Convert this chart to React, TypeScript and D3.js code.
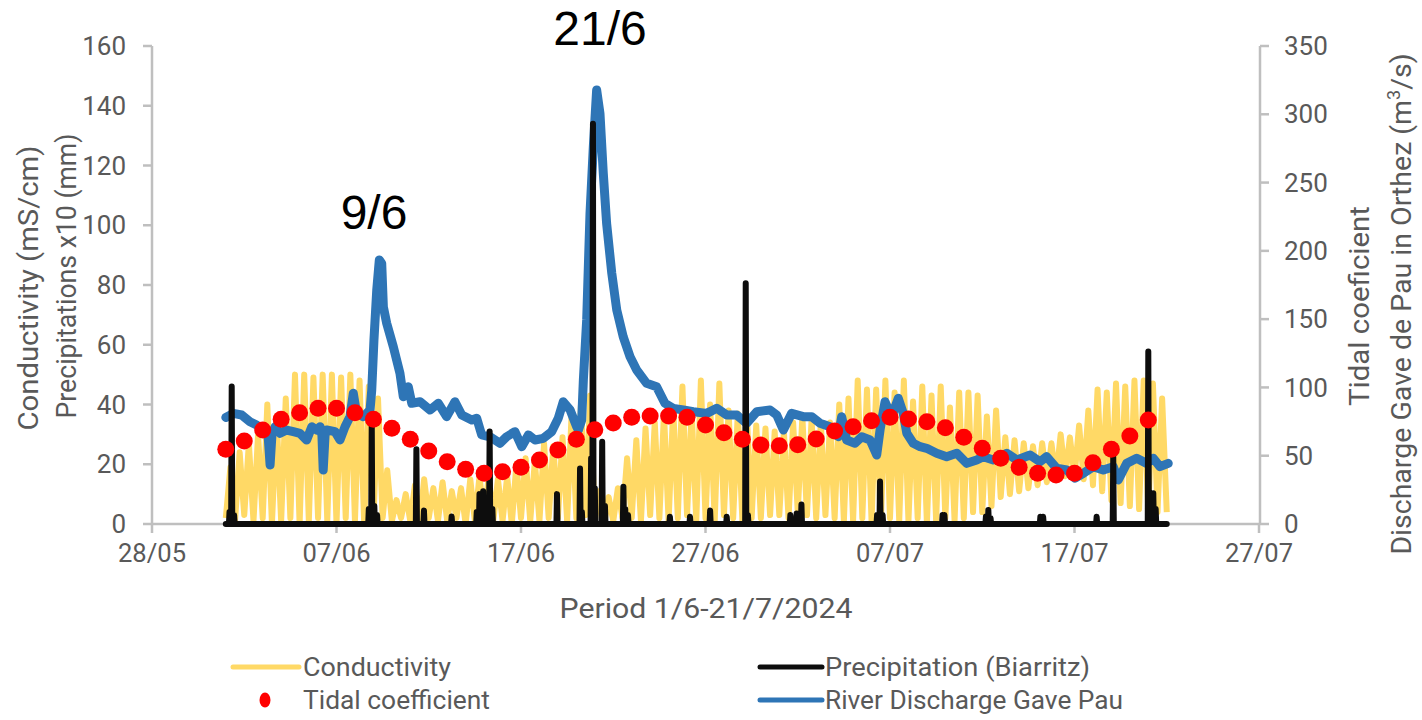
import React from "react";
import * as d3 from "d3";

// ---------- DATA ----------
const xTickDates = ["2024-05-28", "2024-06-07", "2024-06-17", "2024-06-27", "2024-07-07", "2024-07-17", "2024-07-27"];
const leftTicks = [0, 20, 40, 60, 80, 100, 120, 140, 160];
const rightTicks = [0, 50, 100, 150, 200, 250, 300, 350];

// Tidal coefficient, one value per day from 1/6 to 21/7
const tidal = [
  54.7, 60.8, 68.8, 76.7, 81.5, 84.7, 84.7, 81.5, 76.7, 70.1,
  62.0, 53.5, 45.6, 40.0, 37.1, 38.3, 41.5, 46.9, 54.2, 62.0,
  69.0, 74.0, 78.1, 79.1, 79.1, 78.1, 72.5, 66.8, 62.0, 57.8,
  57.3, 58.0, 62.2, 68.1, 71.2, 75.6, 78.1, 76.9, 74.9, 70.5,
  63.5, 55.4, 48.1, 41.5, 37.1, 35.9, 37.1, 44.9, 54.7, 64.4, 76.1,
];

// Conductivity: high-tide peaks (two per day) and low-tide troughs
const condHigh = [
  19, 24, 27, 30, 40, 36, 42, 50, 50, 49, 50, 50, 49, 50, 48, 46, 42, 18,
  8, 10, 13, 15, 12, 14, 11, 12, 15, 16, 16, 15, 16, 20, 22, 21, 27, 26, 29, 38, 40, 43,
  11, 9, 12, 22,
  28, 32, 34, 37, 39, 46, 38, 48, 40, 47, 38, 37, 35, 33, 32, 31,
  31, 34, 36, 35, 34, 34, 40, 42,
  48, 45, 45, 48, 44, 48, 41, 46, 43, 46, 39, 44, 44, 43,
  36, 38, 29, 28, 27, 26, 27, 27, 30, 29, 33, 38, 45, 44,
  47, 46, 48, 48, 47, 42,
];
const condLow = [
  2, 1, 3, 1, 2, 0, 1, 2, 0, 1, 2, 1, 0, 2, 1, 0, 1, 2,
  1, 2, 1, 0, 2, 1, 1, 2, 0, 1, 2, 1, 1, 0, 2, 1, 1, 2, 2, 1, 2, 3,
  1, 0, 1, 2,
  2, 1, 3, 2, 1, 2, 3, 1, 2, 1, 3, 2, 1, 2, 2, 3,
  3, 2, 4, 3, 2, 3, 2, 1,
  1, 2, 1, 0, 2, 1, 1, 2, 0, 1, 2, 1, 2, 4,
  4, 6, 9, 10, 11, 12, 13, 14, 15, 16, 16, 15, 13, 11,
  8, 7, 6, 5, 4, 4,
  4,
];

// Precipitation events (day after 1/6, value x10 mm)
const precipitation: [number, number][] = [
  [0.2, 4], [0.32, 46], [0.45, 3],
  [7.75, 5], [7.91, 35], [8.05, 6], [8.2, 3],
  [10.33, 25], [10.74, 4.5], [12.24, 2.5],
  [13.6, 4], [13.75, 10], [13.95, 11], [14.15, 8], [14.3, 31], [14.45, 5],
  [17.95, 10], [19.2, 18.6], [19.3, 4], [19.8, 22], [19.9, 134], [20.0, 12],
  [20.4, 27.5], [20.55, 6], [21.55, 12.5], [21.65, 5], [21.8, 3],
  [24.07, 2.4], [25.16, 2.4], [26.25, 4.5], [27.15, 2.4], [28.18, 80.6], [28.3, 3],
  [30.6, 3], [30.94, 3.5], [31.2, 6.5], [35.3, 3], [35.46, 14.2], [35.6, 3],
  [38.85, 3], [38.95, 3], [41.2, 2.5], [41.33, 4.7], [41.45, 2],
  [44.15, 2.4], [44.3, 2.4], [47.2, 2.4], [48.1, 22.5],
  [50.0, 57.7], [50.15, 8], [50.27, 10.3], [50.4, 5],
];

// River discharge Gave de Pau (day after 1/6, m3/s)
const discharge: [number, number][] = [
  [0, 78], [0.41, 81], [0.86, 79.8], [1.31, 74.9], [1.67, 72.5], [2.03, 68.8], [2.29, 65.2],
  [2.4, 43.2], [2.5, 65], [2.67, 71.2], [2.94, 66.4], [3.3, 68.8], [3.66, 67.6], [4.02, 66.4],
  [4.38, 61.5], [4.66, 71.2], [4.93, 68.8], [5.11, 71.2], [5.21, 65], [5.28, 39.5], [5.38, 65],
  [5.47, 68.8], [5.92, 67.6], [6.19, 61.5], [6.46, 71.2], [6.73, 78.6], [6.91, 95.7], [7.09, 81],
  [7.45, 78.6], [7.82, 83.5], [7.91, 98], [8.03, 134.7], [8.18, 171], [8.32, 193.3], [8.45, 190.9],
  [8.54, 159], [8.72, 147], [9.08, 129.8], [9.44, 110.3], [9.62, 93.2], [9.89, 100.5], [10.08, 88.4],
  [10.53, 89.5], [11.07, 83.5], [11.52, 88.4], [11.97, 78.6], [12.42, 89.5], [12.79, 79.8],
  [13.33, 76.1], [13.6, 77.4], [13.87, 65.2], [14.32, 63.9], [14.86, 59.1], [15.22, 63.9],
  [15.67, 67.6], [16.04, 56.6], [16.4, 65.2], [16.76, 61.5], [17.21, 62.7], [17.66, 67.6],
  [18.02, 77.4], [18.29, 89.5], [18.66, 83.5], [19.02, 71.2], [19.11, 68.8], [19.29, 76.1],
  [19.38, 105.4], [19.56, 149.4], [19.74, 227.5], [19.92, 276.3], [20.1, 317.8], [20.28, 300.7],
  [20.46, 256.8], [20.64, 220.2], [20.92, 183.6], [21.19, 156.7], [21.54, 137.1], [21.91, 122.5],
  [22.27, 112.8], [22.81, 103], [23.35, 100.5], [23.8, 88.4], [24.25, 84.7], [24.8, 83.5],
  [25.34, 82.2], [26.07, 81], [26.61, 84.7], [27.15, 79.8], [27.69, 79.8], [28.23, 73.7],
  [28.78, 82.2], [29.5, 83.5], [29.86, 79.8], [30.22, 68.8], [30.67, 81], [31.3, 78.6],
  [31.76, 78.6], [32.21, 73.7], [32.75, 71.2], [33.2, 63.9], [33.38, 78.6], [33.65, 61.5],
  [34.1, 59.1], [34.47, 63.9], [34.92, 61.5], [35.28, 50.5], [35.46, 68.8], [35.73, 89.5],
  [36.09, 78.6], [36.45, 92], [36.72, 81], [36.91, 66.4], [37.26, 59.1], [37.63, 56.6],
  [37.99, 55.4], [38.53, 51.8], [39.07, 49.3], [39.62, 51.8], [40.16, 44.4], [40.7, 46.9],
  [41.06, 49.3], [41.6, 46.9], [42.33, 51.8], [42.87, 46.9], [43.59, 50.5], [44.13, 45.6],
  [44.49, 49.3], [45.03, 40.8], [45.58, 39.5], [46.03, 33.5], [46.48, 37.1], [47.02, 42],
  [47.56, 39.5], [48.1, 42], [48.37, 32.2], [48.83, 44.4], [49.37, 48.1], [49.91, 44.4],
  [50.27, 48.1], [50.63, 42], [51.08, 44.4],
];

// ---------- CHART ----------
const START = Date.UTC(2024, 5, 1);
const dayDate = (d: number) => new Date(START + d * 864e5);

const FONT = "Roboto, 'Noto Sans', sans-serif";
const TXT = "#595959";
const AXIS = "#BFBFBF";

export default function App() {
  const x = d3
    .scaleUtc()
    .domain([new Date(Date.UTC(2024, 4, 28)), new Date(Date.UTC(2024, 6, 27))])
    .range([152, 1259]);
  const yL = d3.scaleLinear().domain([0, 160]).range([524, 46]);
  const yR = d3.scaleLinear().domain([0, 350]).range([524, 46]);
  const fmt = d3.utcFormat("%d/%m");

  const condPts: [number, number][] = [];
  condHigh.forEach((h, i) => {
    condPts.push([i * 0.5, condLow[i]]);
    condPts.push([i * 0.5 + 0.25, h]);
  });
  condPts.push([51, condLow[condLow.length - 1]]);

  const precPts: [number, number][] = [[0, 0]];
  precipitation.forEach(([d, v]) => {
    precPts.push([d - 0.03, 0], [d, v], [d + 0.03, 0]);
  });
  precPts.push([51, 0]);

  const lineL = d3
    .line<[number, number]>()
    .x((p) => x(dayDate(p[0])))
    .y((p) => yL(p[1]));
  const lineR = d3
    .line<[number, number]>()
    .x((p) => x(dayDate(p[0])))
    .y((p) => yR(p[1]));

  return (
    <svg
      width={1422}
      height={720}
      style={{ position: "absolute", left: 0, top: 0, background: "#fff" }}
      fontFamily={FONT}
    >
      <rect x={0} y={0} width={1422} height={720} fill="#fff" />
      {/* axes */}
      <line x1={152} y1={46} x2={152} y2={524} stroke={AXIS} strokeWidth={2.5} />
      <line x1={1260} y1={46} x2={1260} y2={524} stroke={AXIS} strokeWidth={2.5} />
      <line x1={152} y1={524} x2={1260} y2={524} stroke={AXIS} strokeWidth={2.5} />
      {leftTicks.map((t) => (
        <g key={"l" + t}>
          <line x1={143} x2={152} y1={yL(t)} y2={yL(t)} stroke={AXIS} strokeWidth={2.5} />
          <text x={126} y={yL(t)} dy="0.35em" textAnchor="end" fontSize={26} fill={TXT}>
            {t}
          </text>
        </g>
      ))}
      {rightTicks.map((t) => (
        <g key={"r" + t}>
          <line x1={1260} x2={1269} y1={yR(t)} y2={yR(t)} stroke={AXIS} strokeWidth={2.5} />
          <text x={1284} y={yR(t)} dy="0.35em" textAnchor="start" fontSize={26} fill={TXT}>
            {t}
          </text>
        </g>
      ))}
      {xTickDates.map((s) => {
        const dt = new Date(s + "T00:00:00Z");
        return (
          <g key={s}>
            <line x1={x(dt)} x2={x(dt)} y1={524} y2={533} stroke={AXIS} strokeWidth={2.5} />
            <text x={x(dt)} y={553} dy="0.35em" textAnchor="middle" fontSize={26} fill={TXT} textLength={68} lengthAdjust="spacingAndGlyphs">
              {fmt(dt)}
            </text>
          </g>
        );
      })}

      {/* axis titles */}
      <text x={706} y={609} dy="0.35em" textAnchor="middle" fontSize={27} fill={TXT} textLength={293} lengthAdjust="spacingAndGlyphs">
        Period 1/6-21/7/2024
      </text>
      <text transform="translate(38,288) rotate(-90)" textAnchor="middle" fontSize={27} fill={TXT} textLength={285} lengthAdjust="spacingAndGlyphs">
        Conductivity (mS/cm)
      </text>
      <text transform="translate(76,276) rotate(-90)" textAnchor="middle" fontSize={27} fill={TXT} textLength={285} lengthAdjust="spacingAndGlyphs">
        Precipitations x10 (mm)
      </text>
      <text transform="translate(1369,306) rotate(-90)" textAnchor="middle" fontSize={27} fill={TXT} textLength={200} lengthAdjust="spacingAndGlyphs">
        Tidal coeficient
      </text>
      <text transform="translate(1411,304) rotate(-90)" textAnchor="middle" fontSize={28.5} fill={TXT}>
        Discharge Gave de Pau in Orthez (m
        <tspan fontSize={18} dy={-11}>3</tspan>
        <tspan dy={11}>/s)</tspan>
      </text>

      {/* series */}
      <path d={lineL(condPts) || ""} fill="none" stroke="#FFD966" strokeWidth={6} strokeLinejoin="round" />
      <path d={lineR(discharge) || ""} fill="none" stroke="#2E75B6" strokeWidth={9} strokeLinejoin="round" strokeLinecap="round" />
      <path d={lineL(precPts) || ""} fill="none" stroke="#0d0d0d" strokeWidth={6} strokeLinejoin="round" strokeLinecap="round" />
      {tidal.map((v, i) => (
        <circle key={"t" + i} cx={x(dayDate(i))} cy={yR(v)} r={8.5} fill="#FF0000" />
      ))}

      {/* annotations */}
      <text x={374} y={229} textAnchor="middle" fontSize={48} fill="#000" fontFamily="'Liberation Sans', Arial, sans-serif">
        9/6
      </text>
      <text x={600} y={45} textAnchor="middle" fontSize={48} fill="#000" fontFamily="'Liberation Sans', Arial, sans-serif">
        21/6
      </text>

      {/* legend */}
      <line x1={233} x2={299} y1={667} y2={667} stroke="#FFD966" strokeWidth={5} strokeLinecap="round" />
      <text x={303} y={667} dy="0.35em" fontSize={26} fill={TXT} textLength={148} lengthAdjust="spacingAndGlyphs">
        Conductivity
      </text>
      <ellipse cx={265} cy={700} rx={5.5} ry={7.5} fill="#FF0000" />
      <text x={303} y={700} dy="0.35em" fontSize={26} fill={TXT} textLength={187} lengthAdjust="spacingAndGlyphs">
        Tidal coefficient
      </text>
      <line x1={760} x2={822} y1={667} y2={667} stroke="#0d0d0d" strokeWidth={5} strokeLinecap="round" />
      <text x={825} y={667} dy="0.35em" fontSize={26} fill={TXT} textLength={265} lengthAdjust="spacingAndGlyphs">
        Precipitation (Biarritz)
      </text>
      <line x1={760} x2={822} y1={700} y2={700} stroke="#2E75B6" strokeWidth={5} strokeLinecap="round" />
      <text x={825} y={700} dy="0.35em" fontSize={26} fill={TXT} textLength={298} lengthAdjust="spacingAndGlyphs">
        River Discharge Gave Pau
      </text>
    </svg>
  );
}
